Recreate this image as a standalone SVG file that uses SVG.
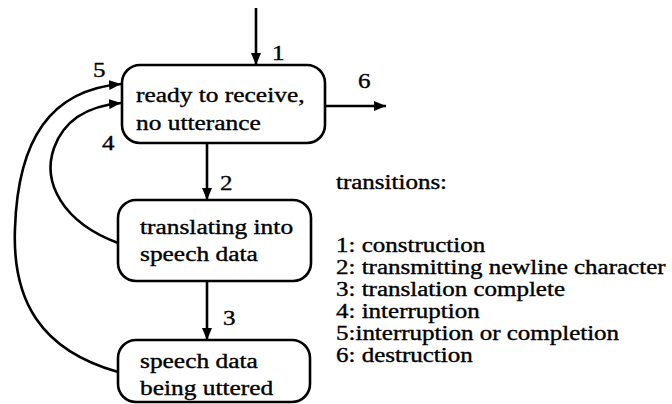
<svg xmlns="http://www.w3.org/2000/svg" width="672" height="404" viewBox="0 0 672 404">
<defs>
<marker id="ah" viewBox="0 0 12 10" refX="12" refY="5" markerWidth="12" markerHeight="10" markerUnits="userSpaceOnUse" orient="auto">
<path d="M0,0 L12,5 L0,10 Z" fill="#000"/>
</marker>
<style>
.box{fill:#fff;stroke:#000;stroke-width:2.6}
.c{fill:none;stroke:#000;stroke-width:2.6;marker-end:url(#ah)}
.t{font-family:'Liberation Serif','Times New Roman',serif;font-size:20px;fill:#000;stroke:#000;stroke-width:0.35}
</style>
</defs>
<rect width="672" height="404" fill="#fff"/>
<g id="connectors">
<path class="c" d="M256,8 L256,65"/>
<path class="c" d="M325,106 L386,106"/>
<path class="c" d="M207,143 L207,200"/>
<path class="c" d="M207,281 L207,340"/>
<path class="c" d="M118,243 C62,222 42,182 54,148 C64,120 88,106 121,103"/>
<path class="c" d="M118,372 C40,350 12,300 15,228 C18,140 50,90 121,84"/>
<text class="t" transform="matrix(1.25,0,0,1,272,60)">1</text>
<text class="t" transform="matrix(1.25,0,0,1,358,88)">6</text>
<text class="t" transform="matrix(1.25,0,0,1,220,190)">2</text>
<text class="t" transform="matrix(1.25,0,0,1,223,325)">3</text>
<text class="t" transform="matrix(1.25,0,0,1,102,150)">4</text>
<text class="t" transform="matrix(1.25,0,0,1,93,77)">5</text>
</g>
<g id="ready">
<rect class="box" x="122" y="65" width="203" height="78" rx="18"/>
<text class="t" transform="matrix(1.27,0,0,1,136,102)">ready to receive,</text>
<text class="t" transform="matrix(1.27,0,0,1,136,130)">no utterance</text>
</g>
<g id="translating">
<rect class="box" x="118" y="200" width="193" height="81" rx="18"/>
<text class="t" transform="matrix(1.27,0,0,1,140,234)">translating into</text>
<text class="t" transform="matrix(1.27,0,0,1,140,261)">speech data</text>
</g>
<g id="uttering">
<rect class="box" x="118" y="340" width="192" height="62" rx="18"/>
<text class="t" transform="matrix(1.27,0,0,1,140,368)">speech data</text>
<text class="t" transform="matrix(1.27,0,0,1,140,395)">being uttered</text>
</g>
<g id="legend">
<text class="t" transform="matrix(1.25,0,0,1,336,189)">transitions:</text>
<text class="t" transform="matrix(1.25,0,0,1,336,252)">1: construction</text>
<text class="t" transform="matrix(1.25,0,0,1,336,274)">2: transmitting newline character</text>
<text class="t" transform="matrix(1.25,0,0,1,336,296)">3: translation complete</text>
<text class="t" transform="matrix(1.25,0,0,1,336,318)">4: interruption</text>
<text class="t" transform="matrix(1.25,0,0,1,336,340)">5:interruption or completion</text>
<text class="t" transform="matrix(1.25,0,0,1,336,362)">6: destruction</text>
</g>
</svg>
